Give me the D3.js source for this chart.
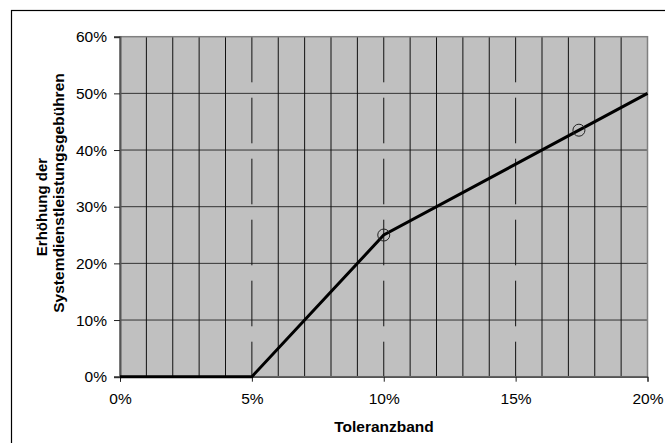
<!DOCTYPE html>
<html>
<head>
<meta charset="utf-8">
<script src="https://cdn.jsdelivr.net/npm/d3@7"></script>
<style>
  body { margin: 0; background: #fff; }
  text { font-family: "Liberation Sans", Arial, sans-serif; }
</style>
</head>
<body>
<div id="chart"></div>
<script>
// Daten
const toleranz = [0, 5, 10, 20];          // Toleranzband in %
const erhoehung = [0, 0, 25, 50];         // Erhöhung in %
const markerX = [10, 17.4];
const markerY = [25, 43.5];
const xTicks = [0, 5, 10, 15, 20];
const yTicks = [0, 10, 20, 30, 40, 50, 60];

const width = 665, height = 443;
const margin = { left: 120, top: 36.7, right: 17.5, bottom: 66.3 };

const svg = d3.select('#chart').append('svg')
  .attr('width', width)
  .attr('height', height);

// äußerer Rahmen (läuft rechts/unten aus dem Bild)
svg.append('rect')
  .attr('x', 11.5).attr('y', 10.5)
  .attr('width', 700).attr('height', 500)
  .attr('fill', 'none')
  .attr('stroke', '#000')
  .attr('stroke-width', 1.2);

const x = d3.scaleLinear().domain([0, 20]).range([margin.left, width - margin.right]);
const y = d3.scaleLinear().domain([0, 60]).range([height - margin.bottom, margin.top]);

const g = svg.append('g');

// Zeichenfläche
g.append('rect')
  .attr('x', x(0)).attr('y', y(60))
  .attr('width', x(20) - x(0)).attr('height', y(0) - y(60))
  .attr('fill', '#c0c0c0');

// horizontale Gitterlinien
g.selectAll('.hgrid')
  .data(yTicks.slice(1, -1))
  .join('line')
  .attr('class', 'hgrid')
  .attr('x1', x(0)).attr('x2', x(20))
  .attr('y1', d => y(d)).attr('y2', d => y(d))
  .attr('stroke', '#333')
  .attr('stroke-width', 1);

// vertikale Hilfslinien, jede 1%
const minor = d3.range(1, 20).filter(d => d % 5 !== 0);
g.selectAll('.vminor')
  .data(minor)
  .join('line')
  .attr('class', 'vminor')
  .attr('x1', d => x(d)).attr('x2', d => x(d))
  .attr('y1', y(60)).attr('y2', y(0))
  .attr('stroke', '#111')
  .attr('stroke-width', 1);

// Hauptlinien gestrichelt
g.selectAll('.vmajor')
  .data([5, 10, 15])
  .join('line')
  .attr('class', 'vmajor')
  .attr('x1', d => x(d)).attr('x2', d => x(d))
  .attr('y1', y(60)).attr('y2', y(0))
  .attr('stroke', '#111')
  .attr('stroke-width', 1)
  .attr('stroke-dasharray', '45.6,15.4');

// Rahmen der Zeichenfläche
g.append('rect')
  .attr('x', x(0)).attr('y', y(60))
  .attr('width', x(20) - x(0)).attr('height', y(0) - y(60))
  .attr('fill', 'none')
  .attr('stroke', '#808080')
  .attr('stroke-width', 1.5);

// Achsen
const yAxis = d3.axisLeft(y).tickValues(yTicks).tickSize(6).tickPadding(7)
  .tickFormat(d => d + '%');
const ya = svg.append('g')
  .attr('transform', `translate(${x(0)},0)`)
  .call(yAxis);
ya.select('.domain').attr('stroke', '#555').attr('stroke-width', 2);
ya.selectAll('.tick line').attr('stroke', '#222');
ya.selectAll('.tick text').attr('font-size', 15.5).attr('fill', '#000')
  .attr('font-family', '"Liberation Sans", Arial, sans-serif');

const xAxis = d3.axisBottom(x).tickValues(xTicks).tickSize(5).tickPadding(11)
  .tickFormat(d => d + '%');
const xa = svg.append('g')
  .attr('transform', `translate(0,${y(0)})`)
  .call(xAxis);
xa.select('.domain').attr('stroke', '#222').attr('stroke-width', 1);
xa.selectAll('.tick line').attr('stroke', '#222');
xa.selectAll('.tick text').attr('font-size', 15.5).attr('fill', '#000')
  .attr('font-family', '"Liberation Sans", Arial, sans-serif');

// Linie
const pts = toleranz.map((d, i) => [d, erhoehung[i]]);
svg.append('path')
  .datum(pts)
  .attr('d', d3.line().x(d => x(d[0])).y(d => y(d[1])))
  .attr('fill', 'none')
  .attr('stroke', '#000')
  .attr('stroke-width', 3);

// Markierungen
svg.selectAll('.marker')
  .data(markerX.map((d, i) => [d, markerY[i]]))
  .join('circle')
  .attr('class', 'marker')
  .attr('cx', d => x(d[0])).attr('cy', d => y(d[1]))
  .attr('r', 6)
  .attr('fill', 'none')
  .attr('stroke', '#222')
  .attr('stroke-width', 1);

// Achsentitel
svg.append('text')
  .attr('x', 384).attr('y', 432)
  .attr('text-anchor', 'middle')
  .attr('font-size', 15.5).attr('font-weight', 'bold')
  .text('Toleranzband');

svg.append('text')
  .attr('transform', 'translate(47,207) rotate(-90)')
  .attr('text-anchor', 'middle')
  .attr('font-size', 15).attr('font-weight', 'bold')
  .text('Erhöhung der');

svg.append('text')
  .attr('transform', 'translate(64,193) rotate(-90)')
  .attr('text-anchor', 'middle')
  .attr('font-size', 15.5).attr('font-weight', 'bold')
  .text('Systemdienstleistungsgebühren');
</script>
</body>
</html>
